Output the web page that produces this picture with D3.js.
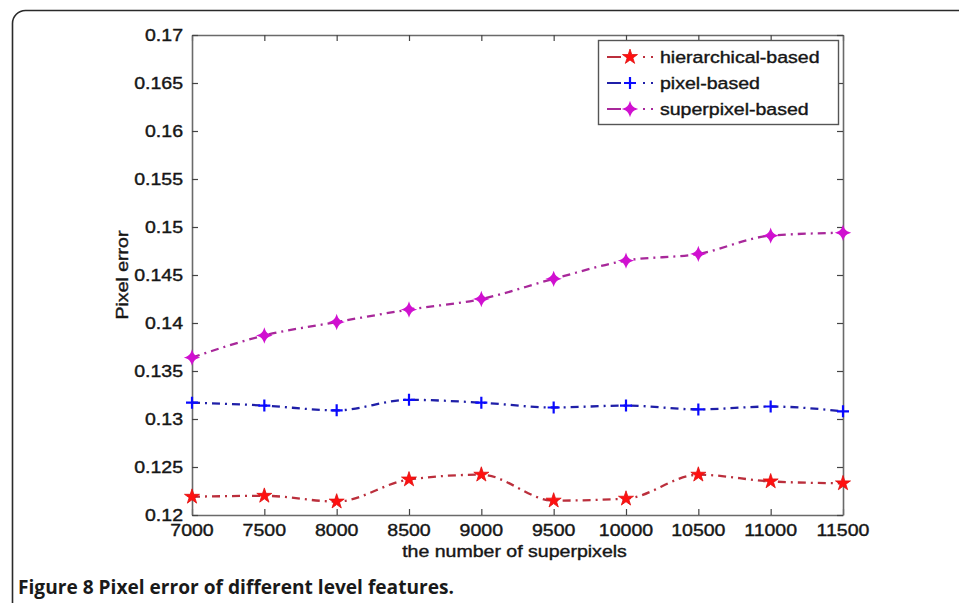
<!DOCTYPE html>
<html>
<head>
<meta charset="utf-8">
<script src="https://cdn.jsdelivr.net/npm/d3@7"></script>
<style>
  html, body { margin: 0; padding: 0; background: #fff; }
  svg { display: block; }
</style>
</head>
<body>
<svg id="chart" width="959" height="603"></svg>
<script>
// ---- data ----
const xValues = [7000, 7500, 8000, 8500, 9000, 9500, 10000, 10500, 11000, 11500];
const hierarchical = [0.1219, 0.1220, 0.1214, 0.1237, 0.1242, 0.1215, 0.1217, 0.1242, 0.1235, 0.1233];
const pixel = [0.1317, 0.1314, 0.1309, 0.1320, 0.1317, 0.1312, 0.1314, 0.1310, 0.1313, 0.1308];
const superpixel = [0.1364, 0.1387, 0.1401, 0.1414, 0.1425, 0.1446, 0.1465, 0.1472, 0.1491, 0.1494];
const seriesNames = ["hierarchical-based", "pixel-based", "superpixel-based"];
const yTicks = [0.12, 0.125, 0.13, 0.135, 0.14, 0.145, 0.15, 0.155, 0.16, 0.165, 0.17];
const yTickLabels = ["0.12", "0.125", "0.13", "0.135", "0.14", "0.145", "0.15", "0.155", "0.16", "0.165", "0.17"];
const xLabel = "the number of superpixels";
const yLabel = "Pixel error";
const captionBold = "Figure 8";
const captionText = " Pixel error of different level features.";

const svg = d3.select("#chart");

// frame
svg.append("rect")
  .attr("x", 12.5).attr("y", 10.5)
  .attr("width", 980).attr("height", 640)
  .attr("rx", 13).attr("ry", 13)
  .attr("fill", "none").attr("stroke", "#2a2a2a").attr("stroke-width", 1.6);

const m = { left: 192, right: 843, top: 35, bottom: 515 };
const x = d3.scaleLinear().domain([7000, 11500]).range([m.left, m.right]);
const y = d3.scaleLinear().domain([0.12, 0.17]).range([m.bottom, m.top]);

const SX = 1.15;
const tickFont = "Liberation Sans, Arial, sans-serif";
const axisColor = "#6a6a6a";
const textColor = "#161616";

function styleText(t) {
  return t.attr("font-family", tickFont).attr("font-size", 17).attr("fill", textColor)
    .attr("stroke", textColor).attr("stroke-width", 0.4);
}

// axes via d3
const gx = svg.append("g").attr("transform", `translate(0,${m.bottom})`)
  .call(d3.axisBottom(x).tickValues(xValues).tickSizeInner(-6).tickSizeOuter(0).tickFormat(""));
const gxTop = svg.append("g").attr("transform", `translate(0,${m.top})`)
  .call(d3.axisTop(x).tickValues(xValues).tickSizeInner(-6).tickSizeOuter(0).tickFormat(""));
const gy = svg.append("g").attr("transform", `translate(${m.left},0)`)
  .call(d3.axisLeft(y).tickValues(yTicks).tickSizeInner(-6).tickSizeOuter(0).tickFormat(""));
const gyR = svg.append("g").attr("transform", `translate(${m.right},0)`)
  .call(d3.axisRight(y).tickValues(yTicks).tickSizeInner(-6).tickSizeOuter(0).tickFormat(""));
[gx, gxTop, gy, gyR].forEach(g => {
  g.selectAll("path.domain").attr("stroke", axisColor).attr("stroke-width", 1.6);
  g.selectAll(".tick line").attr("stroke", "#444").attr("stroke-width", 1.2);
});

// tick labels
xValues.forEach(v => {
  styleText(svg.append("text")
    .attr("transform", `translate(${x(v)},${m.bottom + 21}) scale(${SX},1)`)
    .attr("text-anchor", "middle"))
    .text(String(v));
});
yTicks.forEach((v, i) => {
  styleText(svg.append("text")
    .attr("transform", `translate(${m.left - 9},${y(v) + 6}) scale(${SX},1)`)
    .attr("text-anchor", "end"))
    .text(yTickLabels[i]);
});

// axis labels
styleText(svg.append("text")
  .attr("transform", `translate(${(m.left + m.right) / 2 - 3},${m.bottom + 42}) scale(${SX},1)`)
  .attr("text-anchor", "middle"))
  .text(xLabel);
styleText(svg.append("text")
  .attr("transform", `translate(${128},${(m.top + m.bottom) / 2}) rotate(-90) scale(${SX},1)`)
  .attr("text-anchor", "middle"))
  .text(yLabel);

// series
const series = [
  { name: seriesNames[0], values: hierarchical, line: "#bb2f3c", marker: "#ff1010", shape: "star" },
  { name: seriesNames[1], values: pixel, line: "#1f1fa8", marker: "#0a0aff", shape: "plus" },
  { name: seriesNames[2], values: superpixel, line: "#a8289a", marker: "#d010d0", shape: "diamond" }
];

const lineGen = d3.line().x((d, i) => x(xValues[i])).y(d => y(d)).curve(d3.curveMonotoneX);

function drawMarker(g, shape, cx, cy, color) {
  if (shape === "star") {
    g.append("path")
      .attr("d", d3.symbol().type(d3.symbolStar).size(70)())
      .attr("transform", `translate(${cx},${cy})`)
      .attr("fill", color).attr("stroke", "#e01010").attr("stroke-width", 0.8);
  } else if (shape === "plus") {
    g.append("path")
      .attr("d", `M${cx - 6},${cy}H${cx + 6}M${cx},${cy - 6}V${cy + 6}`)
      .attr("stroke", color).attr("stroke-width", 2.2).attr("fill", "none");
  } else {
    const r = 6;
    g.append("path")
      .attr("d", `M${cx},${cy - r}Q${cx + 1.5},${cy - 1.5} ${cx + r},${cy}Q${cx + 1.5},${cy + 1.5} ${cx},${cy + r}Q${cx - 1.5},${cy + 1.5} ${cx - r},${cy}Q${cx - 1.5},${cy - 1.5} ${cx},${cy - r}Z`)
      .attr("fill", color).attr("stroke", color).attr("stroke-width", 1.4);
  }
}

series.forEach(s => {
  const g = svg.append("g");
  g.append("path")
    .attr("d", lineGen(s.values))
    .attr("fill", "none").attr("stroke", s.line).attr("stroke-width", 2.3)
    .attr("stroke-dasharray", "8,5,2,5");
  s.values.forEach((v, i) => drawMarker(g, s.shape, x(xValues[i]), y(v), s.marker));
});

// legend
const lg = svg.append("g");
const lx = 598, ly = 40, lw = 240, lh = 84;
lg.append("rect").attr("x", lx + 0.5).attr("y", ly + 0.5).attr("width", lw).attr("height", lh)
  .attr("fill", "#fff").attr("stroke", "#555").attr("stroke-width", 1.4);
series.forEach((s, i) => {
  const ry = ly + 17 + i * 26;
  // sample: dash, marker, then two dots
  lg.append("line").attr("x1", lx + 9).attr("x2", lx + 57).attr("y1", ry).attr("y2", ry)
    .attr("stroke", s.line).attr("stroke-width", 2.2).attr("stroke-dasharray", "14,22,2,6,2,60");
  drawMarker(lg, s.shape, lx + 32, ry, s.marker);
  styleText(lg.append("text")
    .attr("transform", `translate(${lx + 62},${ry + 6}) scale(${SX},1)`))
    .text(s.name);
});

// caption
const cap = svg.append("text")
  .attr("x", 18).attr("y", 594)
  .attr("textLength", 436).attr("lengthAdjust", "spacingAndGlyphs")
  .attr("font-family", "Open Sans, sans-serif").attr("font-size", 19).attr("font-weight", 700)
  .attr("fill", "#1a1a1a");
cap.append("tspan").text(captionBold);
cap.append("tspan").text(captionText);
</script>
</body>
</html>
